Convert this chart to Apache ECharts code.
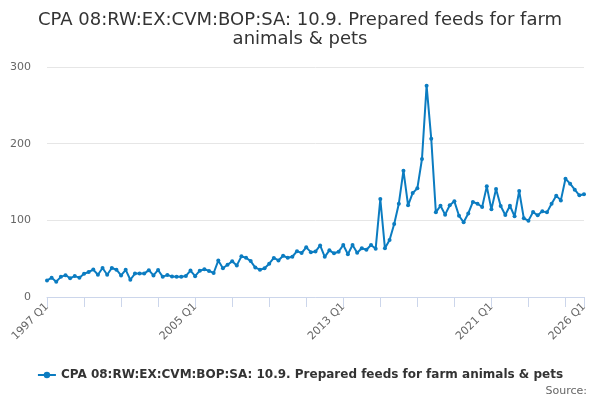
<!DOCTYPE html>
<html>
<head>
<meta charset="utf-8">
<script src="https://cdn.jsdelivr.net/npm/echarts@6/dist/echarts.min.js"></script>
<style>
  html, body { margin: 0; padding: 0; background: #fff; }
  #chart { width: 600px; height: 400px; }
</style>
</head>
<body>
<div id="chart"></div>
<script>
// Quarter labels, 1997 Q1 .. 2026 Q1
const firstYear = 1997;
const quarters = [];
for (let y = firstYear; y <= 2026; y++) {
    for (let q = 1; q <= 4; q++) {
        if (y === 2026 && q > 1) break;
        quarters.push(y + ' Q' + q);
    }
}

// Values
const values = [
    21.6, 25, 20, 26.3, 28.5, 24.5, 27.3, 25.2,
    30.4, 32.6, 35.8, 29, 37.8, 29, 37.8, 35.6,
    28.1, 35.4, 22.5, 30.5, 30.5, 30.5, 35, 28.1,
    35.3, 26.3, 28.8, 26.6, 26.4, 26.4, 27.5, 34.5,
    27.2, 34.3, 36.2, 34, 31.3, 47.5, 37.5, 42,
    46.5, 41.2, 53, 51.2, 46.8, 38.4, 35.6, 37.5,
    43.4, 51, 47.7, 53.8, 51.2, 52.5, 59.8, 57.4,
    64.8, 58.5, 59.3, 67.2, 52.4, 60.9, 57, 59.1,
    67.8, 55.7, 67.8, 57.8, 63.5, 61.7, 67.8, 63,
    127.8, 63.5, 74.3, 95.2, 121.7, 164.8, 119.6, 135.7,
    141.7, 180, 275.7, 206.5, 110.4, 119, 107.4, 119.6,
    124.8, 106, 97.4, 109, 124, 121.7, 117.4, 144.3,
    114.3, 140.9, 118.7, 107, 119, 105.2, 138.3, 102.6,
    99.6, 110.9, 106.5, 111.7, 110.4, 121.7, 132.2, 126,
    154.3, 147.8, 140, 132.6, 133.9
];

const seriesName = 'CPA 08:RW:EX:CVM:BOP:SA: 10.9. Prepared feeds for farm animals & pets';
const titleText = 'CPA 08:RW:EX:CVM:BOP:SA: 10.9. Prepared feeds for farm\nanimals & pets';

const lastIndex = quarters.length - 1;

const chart = echarts.init(document.getElementById('chart'));

const option = {
    animation: false,
    title: [
        {
            text: titleText,
            left: 'center',
            top: 6,
            textStyle: {
                fontFamily: 'DejaVu Sans',
                fontSize: 18,
                fontWeight: 'normal',
                color: '#333333',
                lineHeight: 19
            }
        },
        {
            text: 'Source:',
            right: 8,
            top: 381,
            textStyle: {
                fontFamily: 'DejaVu Sans',
                fontSize: 11,
                fontWeight: 'normal',
                color: '#666666'
            }
        }
    ],
    legend: {
        top: 364,
        left: 'center',
        itemWidth: 18,
        itemHeight: 8,
        textStyle: {
            fontFamily: 'DejaVu Sans',
            fontSize: 12,
            fontWeight: 'bold',
            color: '#333333'
        }
    },
    grid: {
        left: 47,
        right: 16,
        top: 67,
        bottom: 103
    },
    xAxis: {
        type: 'category',
        data: quarters,
        boundaryGap: false,
        axisLine: { lineStyle: { color: '#ccd6eb' } },
        axisTick: {
            length: 10,
            lineStyle: { color: '#ccd6eb' },
            interval: (i) => i % 8 === 0 || i === lastIndex
        },
        axisLabel: {
            rotate: 45,
            fontFamily: 'DejaVu Sans',
            fontSize: 11,
            color: '#666666',
            interval: (i) => i % 32 === 0 || i === lastIndex
        },
        splitLine: { show: false }
    },
    yAxis: {
        type: 'value',
        min: 0,
        max: 300,
        interval: 100,
        axisLine: { show: false },
        axisTick: { show: false },
        axisLabel: {
            fontFamily: 'DejaVu Sans',
            fontSize: 11,
            color: '#666666',
            margin: 16
        },
        splitLine: { lineStyle: { color: '#e6e6e6' } }
    },
    series: [
        {
            name: seriesName,
            type: 'line',
            data: values,
            color: '#0b7cc1',
            symbol: 'circle',
            symbolSize: 4,
            showSymbol: true,
            showAllSymbol: true,
            lineStyle: { width: 2 },
            emphasis: { disabled: true }
        }
    ]
};

chart.setOption(option);
</script>
</body>
</html>
